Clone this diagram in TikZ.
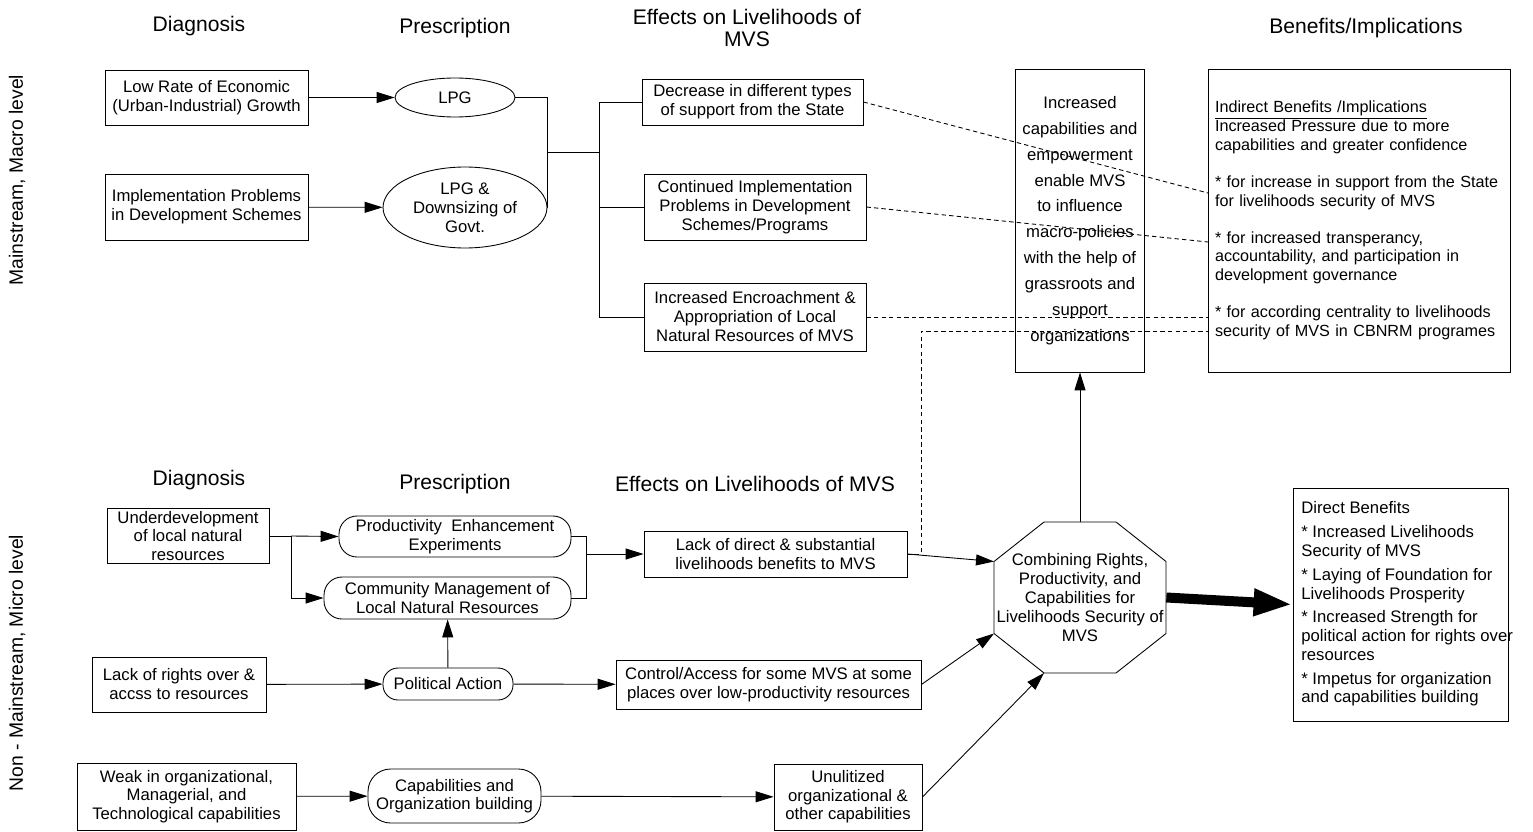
\documentclass[tikz,border=0pt]{standalone}
\usepackage{fontspec}
\setmainfont{Liberation Sans}
\usepackage{tikz}
\usetikzlibrary{shapes, arrows.meta, positioning}
\usetikzlibrary{calc}

\begin{document}
\begin{tikzpicture}
  [
    x=0.02cm, y=-0.02cm,
    Box/.style={rectangle, draw=black, line width=0.5pt, inner sep=1.5pt, align=center, font=\fontsize{9.5}{10.8}\selectfont},
    Oval/.style={ellipse, draw=black, line width=0.5pt, inner sep=1pt, align=center, font=\fontsize{9.5}{10.8}\selectfont},
    Pill/.style={rectangle, rounded corners=0.36cm, draw=black, line width=0.5pt, inner sep=1.5pt, align=center, font=\fontsize{9.5}{10.6}\selectfont},
    Head/.style={font=\fontsize{12}{12.5}\selectfont, align=center},
    Side/.style={font=\fontsize{11}{13}\selectfont, rotate=90},
    Arr/.style={line width=0.5pt, -{Triangle[length=0.36cm, width=0.22cm]}},
    Line/.style={line width=0.5pt},
    DashLine/.style={line width=0.5pt, dash pattern=on 2.5pt off 1.8pt}
  ]
  \useasboundingbox (0,0) rectangle (1533,831);
  % Headings
  \node[Head] (hDiag) at (199,26) {Diagnosis};
  \node[Head] (hPres) at (455,28) {Prescription};
  \node[Head] (hEff) at (747,28) {Effects on Livelihoods of\\MVS};
  \node[Head] (hBen) at (1366,28) {Benefits/Implications};
  \node[Head] (hDiag2) at (199,480) {Diagnosis};
  \node[Head] (hPres2) at (455,484) {Prescription};
  \node[Head] (hEff2) at (755,484) {Effects on Livelihoods of MVS};
  \node[Side] (sMacro) at (17,180) {Mainstream, Macro level};
  \node[Side] (sMicro) at (17,663) {Non - Mainstream, Micro level};
  % Nodes, macro level
  \node[Box, minimum width=4.06cm, minimum height=1.1cm] (diagA) at (206.5,97.5) {Low Rate of Economic\\(Urban-Industrial) Growth};
  \node[Box, minimum width=4.06cm, minimum height=1.32cm] (diagB) at (206.5,207) {Implementation Problems\\in Development Schemes};
  \node[Oval, minimum width=2.4cm, minimum height=0.78cm] (presA) at (455,97.5) {LPG};
  \node[Oval, minimum width=3.28cm, minimum height=1.62cm] (presB) at (465,207.5) {LPG \&\\Downsizing of\\Govt.};
  \node[Box, minimum width=4.42cm, minimum height=0.92cm] (effA) at (752.5,102) {Decrease in different types\\of support from the State};
  \node[Box, minimum width=4.44cm, minimum height=1.32cm] (effB) at (755,207) {Continued Implementation\\Problems in Development\\Schemes/Programs};
  \node[Box, minimum width=4.44cm, minimum height=1.36cm] (effE) at (755,317) {Increased Encroachment \&\\Appropriation of Local\\Natural Resources of MVS};
  \node[Box, minimum width=2.58cm, minimum height=6.06cm, font=\fontsize{9.5}{14.7}\selectfont] (capF) at (1080,220.5) {Increased\\capabilities and\\empowerment\\enable MVS\\to influence\\macro-policies\\with the help of\\grassroots and\\support\\organizations};
  \node[Box, text width=5.76cm, inner xsep=0.14cm, minimum height=6.06cm, align=left, font=\fontsize{9.2}{10.6}\selectfont] (benG) at (1359,220.5) {\underline{Indirect Benefits /Implications}\\Increased Pressure due to more\\capabilities and greater confidence\\[10.6pt]* for increase in support from the State\\for livelihoods security of MVS\\[10.6pt]* for increased transperancy,\\accountability, and participation in\\development governance\\[10.6pt]* for according centrality to livelihoods\\security of MVS in CBNRM programes};
  % Nodes, micro level
  \node[Box, minimum width=3.24cm, minimum height=1.08cm, font=\fontsize{9.5}{10.5}\selectfont] (diagU) at (188,536) {Underdevelopment\\of local natural\\resources};
  \node[Pill, minimum width=4.64cm, minimum height=0.82cm] (presP) at (455,536.5) {Productivity\ \ Enhancement\\Experiments};
  \node[Pill, minimum width=4.94cm, minimum height=0.84cm] (presC) at (447.5,598) {Community Management of\\Local Natural Resources};
  \node[Box, minimum width=5.26cm, minimum height=0.92cm] (effL) at (775.5,554) {Lack of direct \& substantial\\livelihoods benefits to MVS};
  \node[Box, minimum width=3.48cm, minimum height=1.1cm] (diagR) at (179,684.5) {Lack of rights over \&\\accss to resources};
  \node[Pill, rounded corners=0.3cm, minimum width=2.6cm, minimum height=0.64cm] (presPA) at (448,684) {Political Action};
  \node[Box, minimum width=6.1cm, minimum height=0.98cm] (effCA) at (768.5,684.5) {Control/Access for some MVS at some\\places over low-productivity resources};
  \node[Box, minimum width=4.38cm, minimum height=1.34cm, font=\fontsize{9.5}{10.5}\selectfont] (diagW) at (186.5,796.5) {Weak in organizational,\\Managerial, and\\Technological capabilities};
  \node[Pill, rounded corners=0.45cm, minimum width=3.46cm, minimum height=1.08cm] (presCB) at (454.5,796) {Capabilities and\\Organization building};
  \node[Box, minimum width=2.96cm, minimum height=1.32cm, font=\fontsize{9.5}{10.5}\selectfont] (effU) at (848,797) {Unulitized\\organizational \&\\other capabilities};
  \node[align=center, inner sep=0pt, minimum width=3.44cm, minimum height=3.02cm, font=\fontsize{9.5}{10.8}\selectfont] (comb) at (1080,597.5) {Combining Rights,\\Productivity, and\\Capabilities for\\Livelihoods Security of\\MVS};
  \node[Box, minimum width=4.3cm, minimum height=4.66cm] (benH) at (1400.5,604.5) {};
  \node[anchor=west, inner sep=0pt, align=left, font=\fontsize{9.5}{10.6}\selectfont] (benHtxt) at (1301,604) {Direct Benefits\\[3pt]* Increased Livelihoods\\Security of MVS\\[3pt]* Laying of Foundation for\\Livelihoods Prosperity\\[3pt]* Increased Strength for\\political action for rights over\\resources\\[3pt]* Impetus for organization\\and capabilities building};
  % Octagon outline
  \coordinate (o1) at ($(comb.center)+(-36,-75.5)$);
  \coordinate (o2) at ($(comb.center)+(36,-75.5)$);
  \coordinate (o3) at ($(comb.center)+(86,-36)$);
  \coordinate (o4) at ($(comb.center)+(86,36)$);
  \coordinate (o5) at ($(comb.center)+(36,75.5)$);
  \coordinate (o6) at ($(comb.center)+(-36,75.5)$);
  \coordinate (o7) at ($(comb.center)+(-86,36)$);
  \coordinate (o8) at ($(comb.center)+(-86,-36)$);
  \path [draw, Line] (o1) -- (o2) -- (o3) -- (o4) -- (o5) -- (o6) -- (o7) -- (o8) -- cycle;
  % Junctions
  \coordinate (jA) at (547,152);
  \coordinate (jB) at (599,152);
  \coordinate (jU) at (291,536);
  \coordinate (jP) at (586,554);
  \coordinate (gA) at (1208,193);
  \coordinate (gB) at (1208,242);
  \coordinate (kink) at (921,331);
  \coordinate (gD) at (1208,331);
  % Lines, macro level
  \path [draw, Arr] (diagA) -- (presA);
  \path [draw, Arr] (diagB) -- (presB);
  \path [draw, Line] (presA.east) -| (jA);
  \path [draw, Line] (presB.east) -| (jA);
  \path [draw, Line] (jA) -- (jB);
  \path [draw, Line] (jB) |- (effA.west);
  \path [draw, Line] (jB) |- (effB.west);
  \path [draw, Line] (jB) |- (effE.west);
  \path [draw, DashLine] (effA.east) -- (gA);
  \path [draw, DashLine] (effB.east) -- (gB);
  \path [draw, DashLine] (effE.east) -- (effE.east -| benG.west);
  \path [draw, DashLine] (effL.east) -| (kink) -- (gD);
  % Lines, micro level
  \path [draw, Line] (diagU.east) -- (jU);
  \path [draw, Arr] (jU) -- (presP.west);
  \path [draw, Arr] (jU) |- (presC.west);
  \path [draw, Line] (presP.east) -| (jP);
  \path [draw, Line] (presC.east) -| (jP);
  \path [draw, Arr] (jP) -- (effL.west);
  \path [draw, Arr] (diagR) -- (presPA);
  \path [draw, Arr] (presPA) -- (presC);
  \path [draw, Arr] (presPA) -- (effCA);
  \path [draw, Arr] (diagW) -- (presCB);
  \path [draw, Arr] (presCB) -- (effU);
  \path [draw, Arr] (effL.east) -- (o8);
  \path [draw, Arr] (effCA.east) -- (o7);
  \path [draw, Arr] (effU.east) -- (o6);
  \path [draw, Arr] (comb.north) -- (capF.south);
  \path [draw, line width=0.2cm, -{Triangle[length=0.78cm, width=0.5cm]}] (comb.east) -- (benH.west);
\end{tikzpicture}
\end{document}
